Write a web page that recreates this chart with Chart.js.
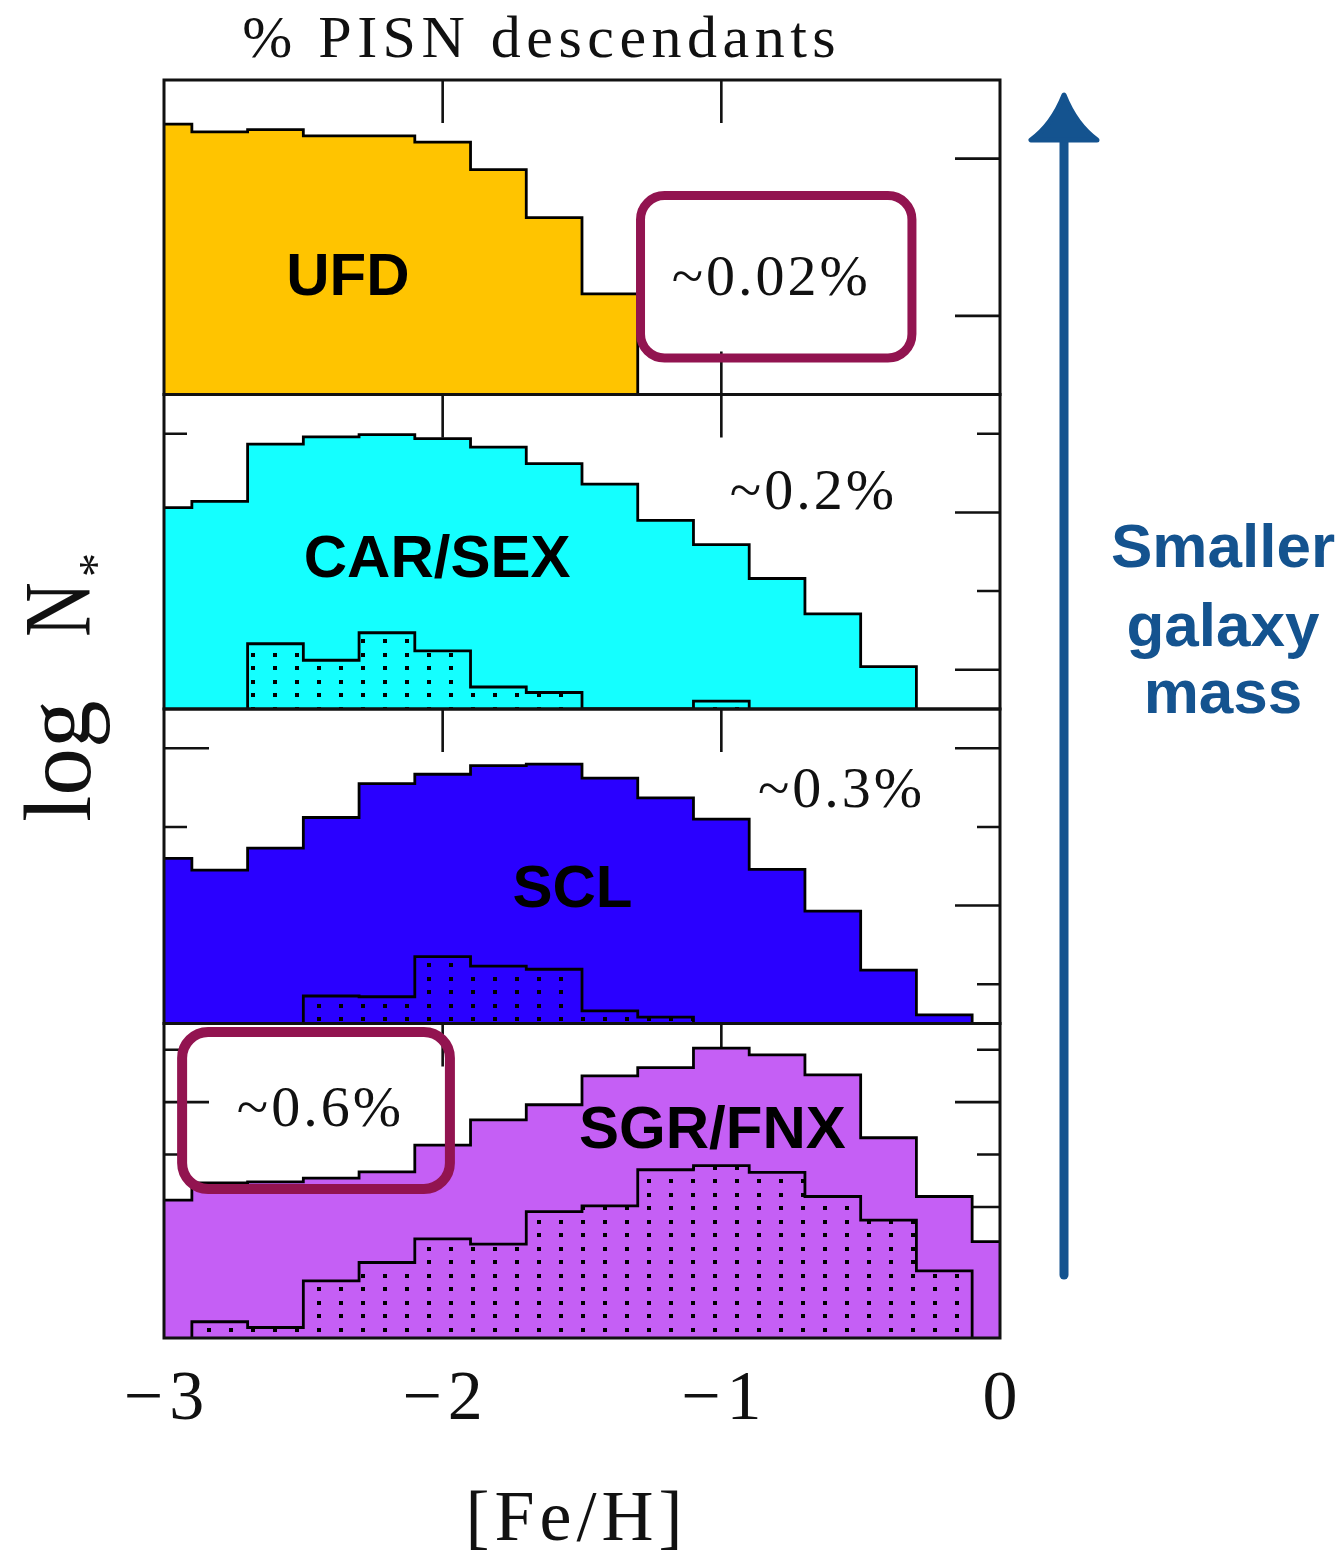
<!DOCTYPE html>
<html>
<head>
<meta charset="utf-8">
<title>% PISN descendants</title>
<script src="https://cdn.jsdelivr.net/npm/chart.js@4.4.1/dist/chart.umd.min.js"></script>
<style>
  html, body { margin: 0; padding: 0; background: #fff; }
  #wrap { position: relative; width: 1342px; height: 1551px; }
</style>
</head>
<body>
<div id="wrap"><canvas id="c" width="1342" height="1551"></canvas></div>
<script>
// ---- data ------------------------------------------------------------
// [Fe/H] bin edges (0.2 dex bins)
const binEdges = [-3.1, -2.9, -2.7, -2.5, -2.3, -2.1, -1.9, -1.7, -1.5, -1.3, -1.1, -0.9, -0.7, -0.5, -0.3, -0.1, 0.1];
const xTickValues = [-3, -2, -1, 0];

const panelNames = ['UFD', 'CAR/SEX', 'SCL', 'SGR/FNX'];
const pisnShares = ['~0.02%', '~0.2%', '~0.3%', '~0.6%'];

// log N* of all stars per bin (null = empty bin)
const ufdAll    = [2.44, 2.34, 2.37, 2.29, 2.29, 2.21, 1.86, 1.25, 0.28, null, null, null, null, null, null, null];
const carSexAll = [2.06, 2.14, 2.87, 2.96, 2.99, 2.94, 2.83, 2.62, 2.36, 1.90, 1.59, 1.16, 0.71, 0.04, null, null];
const sclAll    = [2.60, 2.45, 2.73, 3.12, 3.55, 3.67, 3.78, 3.80, 3.62, 3.37, 3.10, 2.46, 1.93, 1.18, 0.61, null];
const sgrFnxAll = [2.13, 2.46, 2.48, 2.55, 2.67, 3.18, 3.66, 3.95, 4.50, 4.66, 5.03, 4.90, 4.52, 3.32, 2.20, 1.34];

// log N* of PISN descendants per bin
const ufdPisn    = [null, null, null, null, null, null, null, null, null, null, null, null, null, null, null, null];
const carSexPisn = [null, null, 0.33, 0.12, 0.47, 0.24, -0.22, -0.29, null, null, -0.40, null, null, null, null, null];
const sclPisn    = [null, null, null, 0.85, 0.84, 1.35, 1.23, 1.19, 0.66, 0.58, null, null, null, null, null, null];
const sgrFnxPisn = [null, -0.19, -0.30, 0.59, 0.94, 1.39, 1.29, 1.91, 2.02, 2.71, 2.79, 2.66, 2.20, 1.75, 0.78, null];

// vertical extent and tick marks of each panel (log N*)
const yRanges     = [[-1, 3], [-0.5, 3.5], [0.5, 4.5], [-0.5, 5.5]];
const yMajorTicks = [[0, 2], [0, 2], [2, 4], [0, 2, 4]];
const yMinorTicks = [[], [1, 3], [1, 3], [1, 3, 5]];

// ---- styling -----------------------------------------------------------
const panelColors = ['#FFC400', '#14FFFF', '#2A00FF', '#C55FF5'];
const allSeries  = [ufdAll, carSexAll, sclAll, sgrFnxAll];
const pisnSeries = [ufdPisn, carSexPisn, sclPisn, sgrFnxPisn];

// annotation anchors, in data units of each panel
const nameAnchors  = [{x: -2.34, y: 0.47}, {x: -2.02, y: 1.39}, {x: -1.534, y: 2.19}, {x: -1.032, y: 3.44}];
const shareAnchors = [{x: -0.826, y: 0.46}, {x: -0.675, y: 2.235}, {x: -0.574, y: 3.444}, {x: -2.444, y: 3.83}];
const highlightBoxes = [
  {panel: 0, x0: -1.29, x1: -0.316, y0: -0.536, y1: 1.53, lw: 9, r: 24},
  {panel: 3, x0: -2.935, x1: -1.974, y0: 2.343, y1: 5.338, lw: 10, r: 26}
];

const INK = '#111';
const SERIF = "'Liberation Serif', 'Times New Roman', serif";
const SANS = "'Liberation Sans', Arial, sans-serif";
const NOTE_BLUE = '#14538F';
const BOX_RED = '#921450';

const canvas = document.getElementById('c');
const ctx0 = canvas.getContext('2d');

// black dot grid used for the PISN-descendant histograms
const dotPattern = (() => {
  const pc = document.createElement('canvas');
  pc.width = 22; pc.height = 27;
  const g = pc.getContext('2d');
  g.fillStyle = '#000';
  g.fillRect(9, 5, 4, 4);
  g.fillRect(9, 18, 4, 4);
  return ctx0.createPattern(pc, 'repeat');
})();

// turn bin values into the corner points of a closed step outline
function stepOutline(values, base) {
  const pts = [];
  let i = 0;
  while (i < values.length) {
    if (values[i] === null) { i++; continue; }
    pts.push({x: binEdges[i], y: base});
    while (i < values.length && values[i] !== null) {
      pts.push({x: binEdges[i], y: values[i]});
      i++;
    }
    pts.push({x: binEdges[i], y: base});
  }
  return pts;
}

const datasets = [];
panelNames.forEach((name, k) => {
  const base = yRanges[k][0];
  datasets.push({
    label: name,
    data: stepOutline(allSeries[k], base),
    yAxisID: 'y' + k,
    backgroundColor: panelColors[k],
    borderColor: '#000',
    borderWidth: 2.8,
    fill: 'start',
    stepped: 'before',
    pointRadius: 0,
    order: 2
  });
  if (pisnSeries[k].some(v => v !== null)) {
    datasets.push({
      label: name + ' PISN descendants',
      data: stepOutline(pisnSeries[k], base),
      yAxisID: 'y' + k,
      backgroundColor: dotPattern,
      borderColor: '#000',
      borderWidth: 2.8,
      fill: 'start',
      stepped: 'before',
      pointRadius: 0,
      order: 1
    });
  }
});

const scales = {
  x: {
    type: 'linear',
    position: 'bottom',
    min: -3,
    max: 0,
    afterBuildTicks: (s) => { s.ticks = xTickValues.map(v => ({value: v})); },
    afterFit: (s) => { s.height = 213; },
    grid: {display: false, drawTicks: false},
    border: {display: false},
    ticks: {
      padding: 21,
      color: INK,
      autoSkip: false,
      maxRotation: 0,
      font: {family: SERIF, size: 70},
      callback: (v) => v < 0 ? '\u2212\u200A' + Math.abs(v) : String(v)
    }
  }
};
panelNames.forEach((name, k) => {
  scales['y' + k] = {
    type: 'linear',
    position: 'right',
    stack: 'panels',
    stackWeight: 1,
    weight: k,
    min: yRanges[k][0],
    max: yRanges[k][1],
    display: false,
    afterFit: (s) => { s.width = 0; }
  };
});

function textSpaced(ctx, txt, x, y, font, color, spacing, align, baseline) {
  ctx.save();
  ctx.font = font;
  ctx.fillStyle = color;
  ctx.textAlign = align || 'center';
  ctx.textBaseline = baseline || 'middle';
  let dx = 0;
  if (spacing && 'letterSpacing' in ctx) {
    ctx.letterSpacing = spacing + 'px';
    if (ctx.textAlign === 'center') dx = spacing / 2;
  }
  ctx.fillText(txt, x + dx, y);
  ctx.restore();
}

function roundedRect(ctx, x0, y0, x1, y1, r) {
  ctx.beginPath();
  ctx.moveTo(x0 + r, y0);
  ctx.lineTo(x1 - r, y0);
  ctx.arcTo(x1, y0, x1, y0 + r, r);
  ctx.lineTo(x1, y1 - r);
  ctx.arcTo(x1, y1, x1 - r, y1, r);
  ctx.lineTo(x0 + r, y1);
  ctx.arcTo(x0, y1, x0, y1 - r, r);
  ctx.lineTo(x0, y0 + r);
  ctx.arcTo(x0, y0, x0 + r, y0, r);
  ctx.closePath();
}

// inward tick marks and frames of the stacked panels
const panelFrames = {
  id: 'panelFrames',
  beforeDatasetsDraw(chart) {
    const ctx = chart.ctx;
    const xs = chart.scales.x;
    const inner = xTickValues.filter(v => v > xs.min && v < xs.max);
    ctx.save();
    ctx.strokeStyle = INK;
    ctx.lineWidth = 2.6;
    panelNames.forEach((name, k) => {
      const ys = chart.scales['y' + k];
      const L = xs.left, R = xs.right, T = ys.top, B = ys.bottom;
      ctx.beginPath();
      inner.forEach(v => {
        const px = xs.getPixelForValue(v);
        ctx.moveTo(px, T); ctx.lineTo(px, T + 43);
        ctx.moveTo(px, B); ctx.lineTo(px, B - 43);
      });
      yMajorTicks[k].forEach(v => {
        const py = ys.getPixelForValue(v);
        ctx.moveTo(L, py); ctx.lineTo(L + 45, py);
        ctx.moveTo(R, py); ctx.lineTo(R - 45, py);
      });
      yMinorTicks[k].forEach(v => {
        const py = ys.getPixelForValue(v);
        ctx.moveTo(L, py); ctx.lineTo(L + 23, py);
        ctx.moveTo(R, py); ctx.lineTo(R - 23, py);
      });
      ctx.stroke();
    });
    ctx.restore();
  },
  afterDatasetsDraw(chart) {
    const ctx = chart.ctx;
    const xs = chart.scales.x;
    ctx.save();
    ctx.strokeStyle = INK;
    ctx.lineWidth = 3;
    panelNames.forEach((name, k) => {
      const ys = chart.scales['y' + k];
      ctx.strokeRect(xs.left, ys.top, xs.right - xs.left, ys.bottom - ys.top);
    });
    ctx.restore();
  }
};

// titles, panel names, shares, highlight boxes and the galaxy-mass arrow
const annotations = {
  id: 'annotations',
  afterDraw(chart) {
    const ctx = chart.ctx;
    const xs = chart.scales.x;
    const area = chart.chartArea;

    // top title
    textSpaced(ctx, '% PISN descendants', 539, 57, '60px ' + SERIF, INK, 5.5, 'center', 'alphabetic');

    // x-axis title
    textSpaced(ctx, '[Fe/H]', 574, 1540, '72px ' + SERIF, INK, 5, 'center', 'alphabetic');

    // y-axis title, rotated: log N_*
    ctx.save();
    ctx.translate(90, 822);
    ctx.rotate(-Math.PI / 2);
    ctx.fillStyle = INK;
    ctx.textBaseline = 'alphabetic';
    ctx.textAlign = 'left';
    ctx.font = '95px ' + SERIF;
    ctx.fillText('log', 0, 0);
    ctx.save();
    ctx.translate(185, 0);
    ctx.scale(0.8, 1);
    ctx.fillText('N', 0, 0);
    ctx.restore();
    ctx.font = '48px ' + SERIF;
    ctx.fillText('*', 245, 22);
    ctx.restore();

    // panel names and PISN shares
    panelNames.forEach((name, k) => {
      const ys = chart.scales['y' + k];
      const a = nameAnchors[k];
      textSpaced(ctx, name, xs.getPixelForValue(a.x), ys.getPixelForValue(a.y), 'bold 60px ' + SANS, '#000', 0);
      const s = shareAnchors[k];
      textSpaced(ctx, pisnShares[k], xs.getPixelForValue(s.x), ys.getPixelForValue(s.y), '58px ' + SERIF, INK, 3);
    });

    // highlight boxes
    ctx.save();
    ctx.strokeStyle = BOX_RED;
    ctx.lineJoin = 'round';
    highlightBoxes.forEach(b => {
      const ys = chart.scales['y' + b.panel];
      ctx.lineWidth = b.lw;
      roundedRect(ctx, xs.getPixelForValue(b.x0), ys.getPixelForValue(b.y1),
                  xs.getPixelForValue(b.x1), ys.getPixelForValue(b.y0), b.r);
      ctx.stroke();
    });
    ctx.restore();

    // arrow towards smaller galaxy mass
    const ax = area.right + 64;
    const tipY = area.top + 15;
    const baseY = area.top + 60;
    const tailY = area.bottom - 63;
    ctx.save();
    ctx.strokeStyle = NOTE_BLUE;
    ctx.fillStyle = NOTE_BLUE;
    ctx.lineCap = 'round';
    ctx.lineJoin = 'round';
    ctx.lineWidth = 9;
    ctx.beginPath();
    ctx.moveTo(ax, tailY);
    ctx.lineTo(ax, baseY - 4);
    ctx.stroke();
    ctx.lineWidth = 5;
    ctx.beginPath();
    ctx.moveTo(ax, tipY);
    ctx.quadraticCurveTo(ax - 12, tipY + 30, ax - 33, baseY);
    ctx.lineTo(ax + 33, baseY);
    ctx.quadraticCurveTo(ax + 12, tipY + 30, ax, tipY);
    ctx.closePath();
    ctx.fill();
    ctx.stroke();
    ctx.restore();

    const tx = area.right + 223;
    textSpaced(ctx, 'Smaller', tx, 567, 'bold 62px ' + SANS, NOTE_BLUE, 0, 'center', 'alphabetic');
    textSpaced(ctx, 'galaxy', tx, 646, 'bold 62px ' + SANS, NOTE_BLUE, 0, 'center', 'alphabetic');
    textSpaced(ctx, 'mass', tx, 713, 'bold 62px ' + SANS, NOTE_BLUE, 0, 'center', 'alphabetic');
  }
};

new Chart(canvas, {
  type: 'line',
  data: {datasets},
  options: {
    responsive: false,
    devicePixelRatio: 1,
    animation: false,
    events: [],
    layout: {padding: {left: 164, right: 342, top: 80, bottom: 0}},
    plugins: {
      legend: {display: false},
      title: {display: false},
      tooltip: {enabled: false}
    },
    elements: {line: {tension: 0}},
    scales
  },
  plugins: [panelFrames, annotations]
});
</script>
</body>
</html>
